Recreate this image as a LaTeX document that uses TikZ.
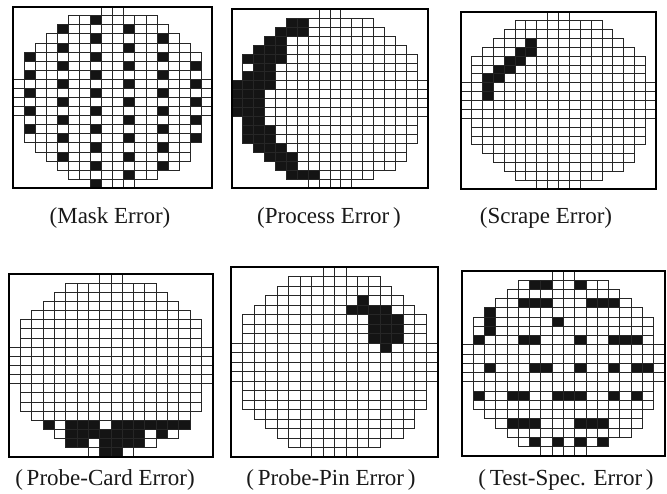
\documentclass[tikz,border=0pt]{standalone}
\usepackage{fontspec}
\setmainfont{Liberation Serif}
\tikzset{
  gridline/.style={draw=black!85, line width=0.9pt},
  frameline/.style={draw=black, line width=1.9pt},
  cellfill/.style={fill=black!92},
  caption/.style={font=\fontsize{23}{26}\selectfont, inner sep=0pt, text=black!90}
}
% #1 left, #2 top, #3 right, #4 bottom (px, y down), #5 black cells row/firstcol/lastcol
\newcommand\wafer[5]{%
  \pgfmathsetmacro\wcw{(#3-#1)/18}%
  \pgfmathsetmacro\wch{(#4-#2)/20}%
  \begin{scope}[shift={(#1,#2)}, x=\wcw pt, y=-\wch pt]
    \foreach \j/\p/\q in {#5} {\fill[cellfill] (\p,\j) rectangle (\q+1,\j+1);}
    \foreach \j/\a/\b in {0/8/9,1/5/12,2/4/13,3/3/14,4/2/15,5/1/16,6/1/16,7/1/16,
                          8/0/17,9/0/17,10/0/17,11/0/17,12/1/16,13/1/16,14/1/16,
                          15/2/15,16/3/15,17/4/14,18/5/12,19/7/10} {
      \foreach \c in {\a,...,\b} {\draw[gridline] (\c,\j) rectangle (\c+1,\j+1);}
    }
  \end{scope}
  \draw[frameline] (#1,#2) rectangle (#3,#4);
}
\begin{document}
\begin{tikzpicture}[x=1pt,y=-1pt]
\useasboundingbox (0,0) rectangle (667,494);
\fill[white] (0,0) rectangle (667,494);

% Mask Error
\wafer{13.3}{6.7}{212.3}{188.3}{5/1/1,7/1/1,9/1/1,11/1/1,13/1/1,
  2/4/4,4/4/4,6/4/4,8/4/4,10/4/4,12/4/4,14/4/4,16/4/4,
  1/7/7,3/7/7,5/7/7,7/7/7,9/7/7,11/7/7,13/7/7,15/7/7,17/7/7,19/7/7,
  2/10/10,4/10/10,6/10/10,8/10/10,10/10/10,12/10/10,14/10/10,16/10/10,18/10/10,
  3/13/13,5/13/13,7/13/13,9/13/13,11/13/13,13/13/13,15/13/13,17/13/13,
  6/16/16,8/16/16,10/16/16,12/16/16,14/16/16}

% Process Error
\wafer{232}{9.3}{428}{188.3}{1/5/6,2/4/6,3/3/4,4/2/4,5/1/4,6/2/3,7/1/3,8/0/3,
  9/0/2,10/0/2,11/0/2,12/1/2,13/1/3,14/1/3,15/2/4,16/3/5,17/4/5,18/5/7}

% Scrape Error
\wafer{460.7}{11.7}{656.3}{189.3}{3/6/6,4/5/6,5/4/5,6/3/4,7/2/3,8/2/2,9/2/2}

% Probe-Card Error
\wafer{9.3}{274}{212.7}{457}{16/3/3,16/5/7,16/9/15,17/5/11,17/13/13,18/5/6,18/8/11,19/8/9}

% Probe-Pin Error
\wafer{231.3}{267.3}{437.7}{457}{3/11/11,4/10/13,5/12/14,6/12/14,7/12/14,8/13/13}

% Test-Spec. Error
\wafer{462}{270.7}{665}{456}{1/6/7,1/10/10,3/5/7,3/11/13,4/2/2,5/2/2,5/8/8,6/2/2,
  7/1/1,7/5/6,7/10/10,7/13/15,10/2/2,10/6/7,10/10/10,10/13/13,10/15/16,
  13/1/1,13/4/5,13/8/10,13/13/13,13/15/15,16/4/6,16/10/12,
  18/6/6,18/8/8,18/10/10,18/12/12}

\node[caption] (lmask) at (110,218) {(Mask Error)};
\node[caption] (lproc) at (329,218) {(Process Error\,)};
\node[caption] (lscr) at (546,218) {(Scrape Error)};
\node[caption] (lcard) at (105,480) {(\,Probe-Card Error)};
\node[caption] (lpin) at (331,480) {(\,Probe-Pin Error\,)};
\node[caption] (ltest) at (566,480) {(\,Test-Spec. Error\,)};
\end{tikzpicture}
\end{document}
